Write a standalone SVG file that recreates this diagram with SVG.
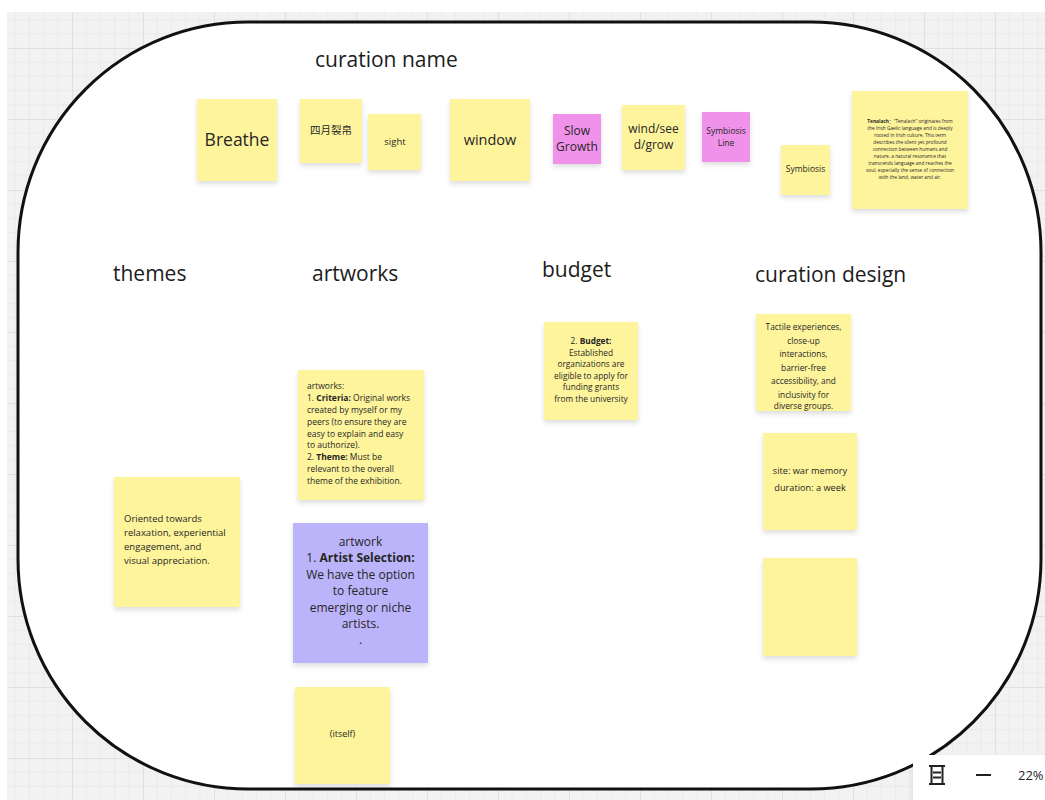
<svg xmlns="http://www.w3.org/2000/svg" width="1045" height="800" viewBox="0 0 1045 800">
<defs>
<pattern id="grid" patternUnits="userSpaceOnUse" x="1" y="48" width="71" height="71">
<rect width="71" height="71" fill="#f2f2f2"/>
<path d="M0 14.2H71M0 28.4H71M0 42.6H71M0 56.8H71M14.2 0V71M28.4 0V71M42.6 0V71M56.8 0V71" stroke="#ebebeb" stroke-width="1" fill="none"/>
<path d="M0 0.5H71M0.5 0V71" stroke="#e0e0e0" stroke-width="1" fill="none"/>
</pattern>
<filter id="sh" x="-20%" y="-20%" width="140%" height="150%">
<feDropShadow dx="0" dy="3" stdDeviation="2.5" flood-color="#000" flood-opacity="0.13"/>
</filter>
</defs>
<style>
.y{fill:#fef49c;filter:url(#sh)}
.p{fill:#f192ea;filter:url(#sh)}
.v{fill:#bcb4fa;filter:url(#sh)}
text{font-family:"Open Sans","Noto Sans","Noto Sans CJK SC",sans-serif;fill:#262626}
.h{font-size:21px;fill:#1c1c1c}
.c{text-anchor:middle}
</style>
<rect width="1045" height="800" fill="#ffffff"/>
<rect x="7" y="12" width="1038" height="788" fill="url(#grid)"/>
<rect id="frame" x="18" y="22" width="1023" height="767" rx="230" ry="230" fill="#ffffff" stroke="#111" stroke-width="3"/>

<g id="headers">
<text class="h" x="315" y="67">curation name</text>
<text class="h" x="113" y="281">themes</text>
<text class="h" x="312" y="281">artworks</text>
<text class="h" x="542" y="277">budget</text>
<text class="h" x="755" y="282">curation design</text>
</g>

<g id="n-breathe"><rect class="y" x="197" y="99" width="80" height="82"/><text class="c" x="237" y="146" font-size="17.5">Breathe</text></g>
<g id="n-siyue"><rect class="y" x="300" y="99" width="62" height="64"/><text class="c" x="331" y="134" font-size="10.5">四月裂帛</text></g>
<g id="n-sight"><rect class="y" x="368" y="114" width="53" height="56"/><text class="c" x="395" y="145" font-size="9.5">sight</text></g>
<g id="n-window"><rect class="y" x="450" y="99" width="80" height="82"/><text class="c" x="490" y="145" font-size="14.5">window</text></g>
<g id="n-slow"><rect class="p" x="553" y="114" width="48" height="50"/><text class="c" x="577" y="135" font-size="12">Slow</text><text class="c" x="577" y="151" font-size="12">Growth</text></g>
<g id="n-wind"><rect class="y" x="622" y="105" width="63" height="65"/><text class="c" x="653.5" y="133" font-size="12">wind/see</text><text class="c" x="653.5" y="149" font-size="12">d/grow</text></g>
<g id="n-symline"><rect class="p" x="702" y="112" width="48" height="50"/><text class="c" x="726" y="134" font-size="8.5">Symbiosis</text><text class="c" x="726" y="146" font-size="8.5">Line</text></g>
<g id="n-sym"><rect class="y" x="781" y="145" width="49" height="50"/><text class="c" x="805.5" y="172" font-size="8.5">Symbiosis</text></g>
<g id="n-tenalach"><rect class="y" x="852" y="91" width="116" height="118"/>
<g font-size="4.8" text-anchor="middle">
<text x="910" y="123"><tspan font-weight="bold">Tenalach</tspan>：“Tenalach” originates from</text>
<text x="910" y="130">the Irish Gaelic language and is deeply</text>
<text x="910" y="137">rooted in Irish culture. This term</text>
<text x="910" y="144">describes the silent yet profound</text>
<text x="910" y="151">connection between humans and</text>
<text x="910" y="158">nature, a natural resonance that</text>
<text x="910" y="165">transcends language and reaches the</text>
<text x="910" y="172">soul, especially the sense of connection</text>
<text x="910" y="179">with the land, water and air.</text>
</g></g>

<g id="n-themes"><rect class="y" x="114" y="477" width="126" height="130"/>
<g font-size="9.5">
<text x="124" y="522">Oriented towards</text>
<text x="124" y="536">relaxation, experiential</text>
<text x="124" y="550">engagement, and</text>
<text x="124" y="564">visual appreciation.</text>
</g></g>

<g id="n-artworks"><rect class="y" x="298" y="370" width="126" height="130"/>
<g font-size="8.5">
<text x="307" y="389">artworks:</text>
<text x="307" y="401">1. <tspan font-weight="bold">Criteria:</tspan> Original works</text>
<text x="307" y="413">created by myself or my</text>
<text x="307" y="424.5">peers (to ensure they are</text>
<text x="307" y="436.5">easy to explain and easy</text>
<text x="307" y="448">to authorize).</text>
<text x="307" y="460">2. <tspan font-weight="bold">Theme:</tspan> Must be</text>
<text x="307" y="472">relevant to the overall</text>
<text x="307" y="484">theme of the exhibition.</text>
</g></g>

<g id="n-artist"><rect class="v" x="293" y="523" width="135" height="140"/>
<g font-size="12" text-anchor="middle">
<text x="360.5" y="546">artwork</text>
<text x="360.5" y="562">1. <tspan font-weight="bold">Artist Selection:</tspan></text>
<text x="360.5" y="579">We have the option</text>
<text x="360.5" y="595">to feature</text>
<text x="360.5" y="612">emerging or niche</text>
<text x="360.5" y="628">artists.</text>
<text x="360.5" y="644">.</text>
</g></g>

<g id="n-itself"><rect class="y" x="295" y="687" width="95" height="97"/><text class="c" x="342.5" y="737" font-size="9">(itself)</text></g>

<g id="n-budget"><rect class="y" x="544" y="322" width="94" height="98"/>
<g font-size="8.3" text-anchor="middle">
<text x="591" y="344"><tspan>2. </tspan><tspan font-weight="bold">Budget:</tspan></text>
<text x="591" y="355.5">Established</text>
<text x="591" y="367">organizations are</text>
<text x="591" y="378.5">eligible to apply for</text>
<text x="591" y="390">funding grants</text>
<text x="591" y="401.5">from the university</text>
</g></g>

<g id="n-tactile"><rect class="y" x="756" y="314" width="95" height="97"/>
<g font-size="8.3" text-anchor="middle">
<text x="803.5" y="330">Tactile experiences,</text>
<text x="803.5" y="343.5">close-up</text>
<text x="803.5" y="357">interactions,</text>
<text x="803.5" y="370.5">barrier-free</text>
<text x="803.5" y="384">accessibility, and</text>
<text x="803.5" y="397.5">inclusivity for</text>
<text x="803.5" y="410.5" dy="-2">diverse groups.</text>
</g></g>

<g id="n-site"><rect class="y" x="763" y="433" width="94" height="97"/>
<g font-size="9.2" text-anchor="middle">
<text x="810" y="474">site: war memory</text>
<text x="810" y="491">duration: a week</text>
</g></g>

<g id="n-empty"><rect class="y" x="763" y="558" width="94" height="98"/></g>

<g id="connectors"></g>

<g id="toolbar">
<rect x="913" y="755" width="140" height="52" rx="8" fill="#ffffff" filter="url(#sh)"/>
<path d="M929 766H945M929 784H945M931.5 766V784M942.5 766V784M933 772.5H941M933 777.5H941" stroke="#222" stroke-width="2" fill="none"/>
<path d="M976 775H991" stroke="#222" stroke-width="2"/>
<text x="1018" y="780" font-size="13">22%</text>
</g>
</svg>
